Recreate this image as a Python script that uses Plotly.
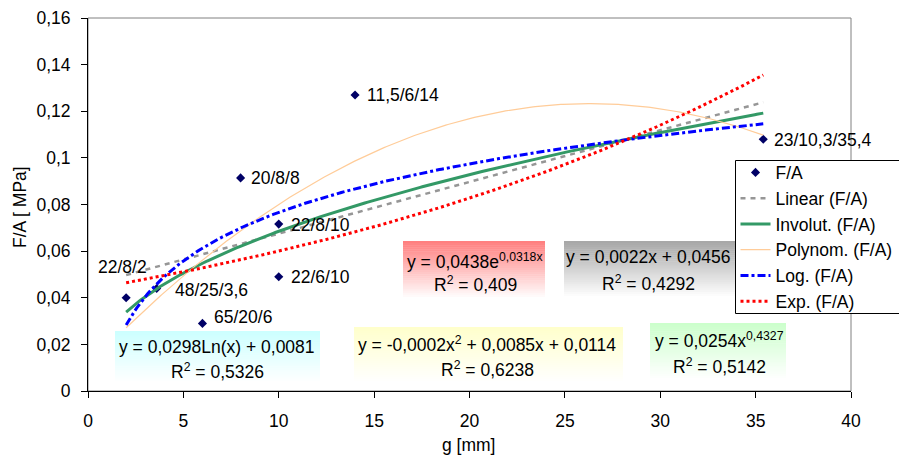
import numpy as np
import plotly.graph_objects as go

# ---- data ---------------------------------------------------------------
g_mm = [2, 3.6, 6, 8, 10, 10, 14, 35.4]
fa_mpa = [0.040, 0.044, 0.029, 0.0914, 0.0716, 0.049, 0.127, 0.108]
point_labels = ["22/8/2", "48/25/3,6", "65/20/6", "20/8/8",
                "22/8/10", "22/6/10", "11,5/6/14", "23/10,3/35,4"]

x_ticks = [0, 5, 10, 15, 20, 25, 30, 35, 40]
y_ticks = [0, 0.02, 0.04, 0.06, 0.08, 0.10, 0.12, 0.14, 0.16]
y_tick_text = ["0", "0,02", "0,04", "0,06", "0,08", "0,1", "0,12", "0,14", "0,16"]

eq_linear = ["y = 0,0022x + 0,0456", "R<sup>2</sup> = 0,4292"]
eq_power = ["y = 0,0254x<sup>0,4327</sup>", "R<sup>2</sup> = 0,5142"]
eq_poly = ["y = -0,0002x<sup>2</sup> + 0,0085x + 0,0114", "R<sup>2</sup> = 0,6238"]
eq_log = ["y = 0,0298Ln(x) + 0,0081", "R<sup>2</sup> = 0,5326"]
eq_exp = ["y = 0,0438e<sup>0,0318x</sup>", "R<sup>2</sup> = 0,409"]

# ---- trendlines (least squares, as a spreadsheet computes them) ---------
x = np.array(g_mm, dtype=float)
y = np.array(fa_mpa, dtype=float)
xs = np.linspace(x.min(), x.max(), 300)

lin = np.polyfit(x, y, 1)
y_lin = np.polyval(lin, xs)

quad = np.polyfit(x, y, 2)
y_quad = np.polyval(quad, xs)

lg = np.polyfit(np.log(x), y, 1)
y_log = lg[0] * np.log(xs) + lg[1]

ex = np.polyfit(x, np.log(y), 1)
y_exp = np.exp(ex[1]) * np.exp(ex[0] * xs)

pw = np.polyfit(np.log(x), np.log(y), 1)
y_pow = np.exp(pw[1]) * xs ** pw[0]

# ---- geometry helpers (page pixels -> paper coordinates) ----------------
W, H = 899, 456
PL, PR, PT, PB = 88, 851, 18, 391


def px(xp):
    return (xp - PL) / (PR - PL)


def py(yp):
    return (PB - yp) / (PB - PT)


FONT = "Liberation Sans, Arial, sans-serif"
FS = 17.5

fig = go.Figure()

fig.add_trace(go.Scatter(
    x=g_mm, y=fa_mpa, mode="markers", name="F/A",
    marker=dict(symbol="diamond", size=7, color="#000066"),
    legendgroup="a",
))

trend_styles = [
    ("Linear (F/A)", y_lin, dict(color="#969696", width=2.5, dash="5px,5px")),
    ("Involut. (F/A)", y_pow, dict(color="#339966", width=3)),
    ("Polynom. (F/A)", y_quad, dict(color="#ffcc99", width=1.2)),
    ("Log. (F/A)", y_log, dict(color="#0000ff", width=3, dash="8px,3px,3px,3px")),
    ("Exp. (F/A)", y_exp, dict(color="#ff0000", width=3, dash="3px,3px")),
]
for i, (name, ys, line) in enumerate(trend_styles):
    fig.add_trace(go.Scatter(x=xs, y=ys, mode="lines", name=name, line=line,
                             legendgroup=f"t{i}", hoverinfo="skip"))

# ---- equation boxes with vertical gradient fill -------------------------
boxes = [
    # (left, top, right, bottom) in pixels, top colour, text lines, line centres
    ((115, 331, 320, 383), (204, 255, 255), eq_log, (217, 346.5, 370.5)),
    ((354, 327, 623, 383), (255, 255, 204), eq_poly, (487, 344, 369)),
    ((403, 241, 545, 299), (255, 128, 128), eq_exp, (475, 261, 284.5)),
    ((564, 241, 736, 298), (168, 168, 168), eq_linear, (648, 257, 283)),
    ((650, 323, 786, 380), (204, 255, 204), eq_power, (719, 340, 366)),
]

shapes = []
annotations = []
N = 28
for (l, t, r, b), (cr, cg, cb), lines, (cx, y1, y2) in boxes:
    h = (b - t) / N
    for k in range(N):
        f = k / (N - 1)
        col = "rgb({},{},{})".format(
            round(cr + (255 - cr) * f), round(cg + (255 - cg) * f), round(cb + (255 - cb) * f))
        shapes.append(dict(
            type="rect", xref="paper", yref="paper",
            x0=px(l), x1=px(r), y0=py(t + (k + 1) * h + 0.5), y1=py(t + k * h),
            fillcolor=col, line=dict(width=0), layer="above",
        ))
    for txt, yc in zip(lines, (y1, y2)):
        annotations.append(dict(
            text=txt, xref="paper", yref="paper", x=px(cx), y=py(yc),
            xanchor="center", yanchor="middle", showarrow=False,
            font=dict(family=FONT, size=FS, color="black"),
        ))

# plot-area frame (grey), axes drawn in black on top
shapes.append(dict(type="rect", xref="paper", yref="paper", x0=0, x1=1, y0=0, y1=1,
                   line=dict(color="#808080", width=1), layer="below"))

# legend frame (the legend itself is drawn without a border on top of it)
shapes.append(dict(type="rect", xref="paper", yref="paper",
                   x0=px(735.5), x1=px(905), y0=py(313.5), y1=py(160.5),
                   fillcolor="white", line=dict(color="black", width=1), layer="above"))

# point labels
label_dx = [-30, 16, 10, 8, 10, 10, 10, 9]
label_dy = [31, -2, 6, 0, -1, 0, 0, -1]
for xv, yv, txt, dx, dy in zip(g_mm, fa_mpa, point_labels, label_dx, label_dy):
    annotations.append(dict(
        text=txt, x=xv, y=yv, xref="x", yref="y", xanchor="left", yanchor="middle",
        xshift=dx, yshift=dy, showarrow=False,
        font=dict(family=FONT, size=FS, color="black"),
    ))

# axis titles
annotations.append(dict(text="F/A [ MPa]", xref="paper", yref="paper",
                        x=px(20), y=py(207), textangle=-90, showarrow=False,
                        xanchor="center", yanchor="middle",
                        font=dict(family=FONT, size=FS, color="black")))
annotations.append(dict(text="g [mm]", xref="paper", yref="paper",
                        x=px(468), y=py(445), showarrow=False,
                        xanchor="center", yanchor="middle",
                        font=dict(family=FONT, size=FS, color="black")))

fig.update_layout(
    width=W, height=H,
    margin=dict(l=PL, r=W - PR, t=PT, b=H - PB, autoexpand=False),
    paper_bgcolor="white", plot_bgcolor="white",
    font=dict(family=FONT, size=FS, color="black"),
    shapes=shapes, annotations=annotations,
    showlegend=True,
    legend=dict(
        x=px(735.5), y=py(154.5), xanchor="left", yanchor="top",
        bgcolor="rgba(0,0,0,0)", borderwidth=0,
        font=dict(family=FONT, size=FS, color="black"),
        traceorder="grouped", tracegroupgap=0,
    ),
    xaxis=dict(
        range=[0, 40], tickvals=x_ticks, ticktext=[str(v) for v in x_ticks],
        showgrid=False, zeroline=False, showline=True, linecolor="black", linewidth=1,
        ticks="outside", ticklen=6, tickcolor="black", ticklabelstandoff=8,
    ),
    yaxis=dict(
        range=[0, 0.16], tickvals=y_ticks, ticktext=y_tick_text,
        showgrid=False, zeroline=False, showline=True, linecolor="black", linewidth=1,
        ticks="outside", ticklen=6, tickcolor="black", ticklabelstandoff=7,
    ),
)

fig.write_html("out.html")
